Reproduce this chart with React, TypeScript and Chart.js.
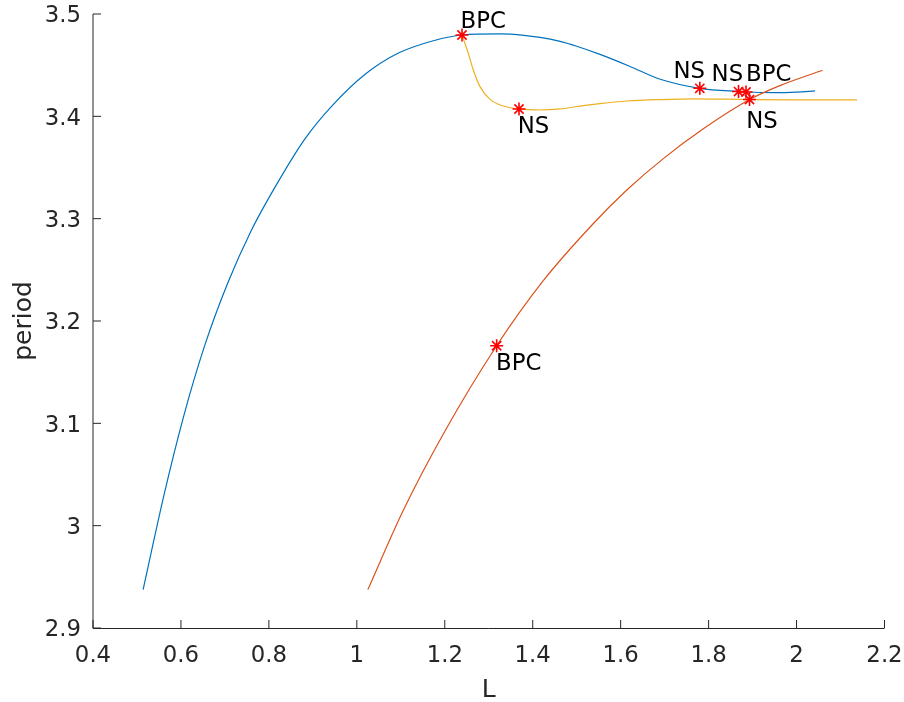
import { useEffect, useRef } from "react";
import { Chart, registerables } from "chart.js";

Chart.register(...registerables);

// Continuation branches: parameter L against orbit period
const blueL = [0.514, 0.561, 0.606, 0.653, 0.706, 0.760, 0.821, 0.882, 0.943, 1.021, 1.097, 1.174, 1.2392, 1.3256, 1.380, 1.4166, 1.460, 1.500, 1.553, 1.620, 1.690, 1.780, 1.868, 1.885, 1.950, 2.000, 2.042];
const bluePeriod = [2.9375, 3.0292, 3.1066, 3.1747, 3.2367, 3.2885, 3.336, 3.378, 3.410, 3.4418, 3.4623, 3.4739, 3.4795, 3.4805, 3.4792, 3.4772, 3.4735, 3.4685, 3.4605, 3.449, 3.4362, 3.4274, 3.4242, 3.4238, 3.4232, 3.4237, 3.4248];

const redL = [1.025, 1.106, 1.197, 1.318, 1.424, 1.538, 1.614, 1.697, 1.788, 1.893, 1.962, 2.059];
const redPeriod = [2.9375, 3.0153, 3.0899, 3.1758, 3.2394, 3.2953, 3.328, 3.3587, 3.3878, 3.4164, 3.430, 3.445];

const yellowL = [1.2392, 1.2535, 1.2649, 1.2801, 1.3029, 1.3331, 1.3688, 1.4166, 1.462, 1.5007, 1.553, 1.6144, 1.690, 1.7645, 1.893, 2.000, 2.1375];
const yellowPeriod = [3.4795, 3.4616, 3.4453, 3.429, 3.4166, 3.4101, 3.4072, 3.4062, 3.4072, 3.4096, 3.4125, 3.415, 3.4164, 3.4171, 3.4164, 3.4161, 3.416];

// Detected bifurcation points
const pointL = [1.2392, 1.3688, 1.780, 1.868, 1.885, 1.893, 1.318];
const pointPeriod = [3.4795, 3.4072, 3.4274, 3.4242, 3.4238, 3.4164, 3.1758];
const pointType = ["BPC", "NS", "NS", "NS", "BPC", "NS", "BPC"];

const xTicks = [0.4, 0.6, 0.8, 1.0, 1.2, 1.4, 1.6, 1.8, 2.0, 2.2];
const yTicks = [2.9, 3.0, 3.1, 3.2, 3.3, 3.4, 3.5];

// Where each point's label sits relative to its marker (pixels)
const labelPlacement: { align: CanvasTextAlign; dx: number; dy: number }[] = [
  { align: "left", dx: -1.5, dy: -6.7 },
  { align: "left", dx: -1.2, dy: 23.7 },
  { align: "right", dx: 5.2, dy: -10.6 },
  { align: "right", dx: 4.6, dy: -11 },
  { align: "left", dx: 0.1, dy: -11 },
  { align: "left", dx: -3.2, dy: 28 },
  { align: "left", dx: -0.6, dy: 24 },
];

const FONT = '"DejaVu Sans", sans-serif';
const AXIS_COLOR = "#262626";

const toXY = (xs: number[], ys: number[]) => xs.map((x, i) => ({ x, y: ys[i] }));
const fmt = (v: number) => String(Number(v.toFixed(1)));

const axesPlugin = {
  id: "matlabAxes",
  beforeDatasetsDraw(chart: any) {
    const { ctx, chartArea } = chart;
    const xs = chart.scales.x;
    const ys = chart.scales.y;
    ctx.save();
    ctx.strokeStyle = AXIS_COLOR;
    ctx.lineWidth = 1;
    ctx.beginPath();
    ctx.moveTo(chartArea.left, chartArea.top);
    ctx.lineTo(chartArea.left, chartArea.bottom + 0.5);
    ctx.moveTo(chartArea.left, chartArea.bottom + 0.5);
    ctx.lineTo(chartArea.right, chartArea.bottom + 0.5);
    const tick = 8;
    xTicks.forEach((v) => {
      const px = xs.getPixelForValue(v);
      ctx.moveTo(px, chartArea.bottom);
      ctx.lineTo(px, chartArea.bottom - tick);
    });
    yTicks.forEach((v) => {
      const py = ys.getPixelForValue(v);
      ctx.moveTo(chartArea.left, py);
      ctx.lineTo(chartArea.left + tick, py);
    });
    ctx.stroke();

    // tick labels
    ctx.fillStyle = AXIS_COLOR;
    ctx.font = `22.8px ${FONT}`;
    ctx.textBaseline = "alphabetic";
    ctx.textAlign = "center";
    xTicks.forEach((v) => {
      ctx.fillText(fmt(v), xs.getPixelForValue(v), chartArea.bottom + 34);
    });
    ctx.textAlign = "right";
    yTicks.forEach((v) => {
      ctx.fillText(fmt(v), chartArea.left - 12, ys.getPixelForValue(v) + 8.3);
    });

    // axis titles
    ctx.font = `25px ${FONT}`;
    ctx.textAlign = "center";
    ctx.fillText("L", (chartArea.left + chartArea.right) / 2, 697);
    ctx.translate(31, (chartArea.top + chartArea.bottom) / 2);
    ctx.rotate(-Math.PI / 2);
    ctx.fillText("period", 0, 0);
    ctx.restore();
  },
  afterDatasetsDraw(chart: any) {
    const { ctx } = chart;
    const xs = chart.scales.x;
    const ys = chart.scales.y;
    ctx.save();
    ctx.fillStyle = "#000000";
    ctx.font = `22.8px ${FONT}`;
    ctx.textBaseline = "alphabetic";
    pointType.forEach((t, i) => {
      const p = labelPlacement[i];
      const px = xs.getPixelForValue(pointL[i]);
      const py = ys.getPixelForValue(pointPeriod[i]);
      ctx.textAlign = p.align;
      ctx.fillText(t, px + p.dx, py + p.dy);
    });
    ctx.restore();
  },
};

export default function App() {
  const canvasRef = useRef<HTMLCanvasElement | null>(null);

  useEffect(() => {
    if (!canvasRef.current) return;
    const lineStyle = {
      showLine: true,
      pointRadius: 0,
      borderWidth: 1.2,
      cubicInterpolationMode: "monotone" as const,
      fill: false,
    };
    const chart = new Chart(canvasRef.current, {
      type: "scatter",
      data: {
        datasets: [
          {
            label: "special points",
            data: toXY(pointL, pointPeriod),
            showLine: false,
            pointStyle: "star",
            pointRadius: 6.5,
            pointBorderWidth: 1.6,
            pointBorderColor: "#ff0000",
            pointBackgroundColor: "#ff0000",
          },
          { label: "branch 3", data: toXY(yellowL, yellowPeriod), borderColor: "#EDB120", ...lineStyle },
          { label: "branch 2", data: toXY(redL, redPeriod), borderColor: "#D95319", ...lineStyle },
          { label: "branch 1", data: toXY(blueL, bluePeriod), borderColor: "#0072BD", ...lineStyle },
        ],
      },
      options: {
        animation: false,
        responsive: false,
        devicePixelRatio: 1,
        layout: { padding: { top: 14, right: 19.5, left: 0, bottom: 0 } },
        plugins: { legend: { display: false }, tooltip: { enabled: false } },
        scales: {
          x: {
            type: "linear",
            min: 0.4,
            max: 2.2,
            grid: { display: false, drawTicks: false },
            border: { display: false },
            ticks: { display: false },
            afterBuildTicks: (scale: any) => {
              scale.ticks = xTicks.map((value) => ({ value }));
            },
            afterFit: (scale: any) => {
              scale.height = 74;
            },
          },
          y: {
            type: "linear",
            min: 2.9,
            max: 3.5,
            grid: { display: false, drawTicks: false },
            border: { display: false },
            ticks: { display: false },
            afterBuildTicks: (scale: any) => {
              scale.ticks = yTicks.map((value) => ({ value }));
            },
            afterFit: (scale: any) => {
              scale.width = 93;
            },
          },
        },
      },
      plugins: [axesPlugin],
    });
    return () => chart.destroy();
  }, []);

  return (
    <div style={{ position: "fixed", left: 0, top: 0, width: 904, height: 702, background: "#ffffff" }}>
      <canvas ref={canvasRef} width={904} height={702} />
    </div>
  );
}
